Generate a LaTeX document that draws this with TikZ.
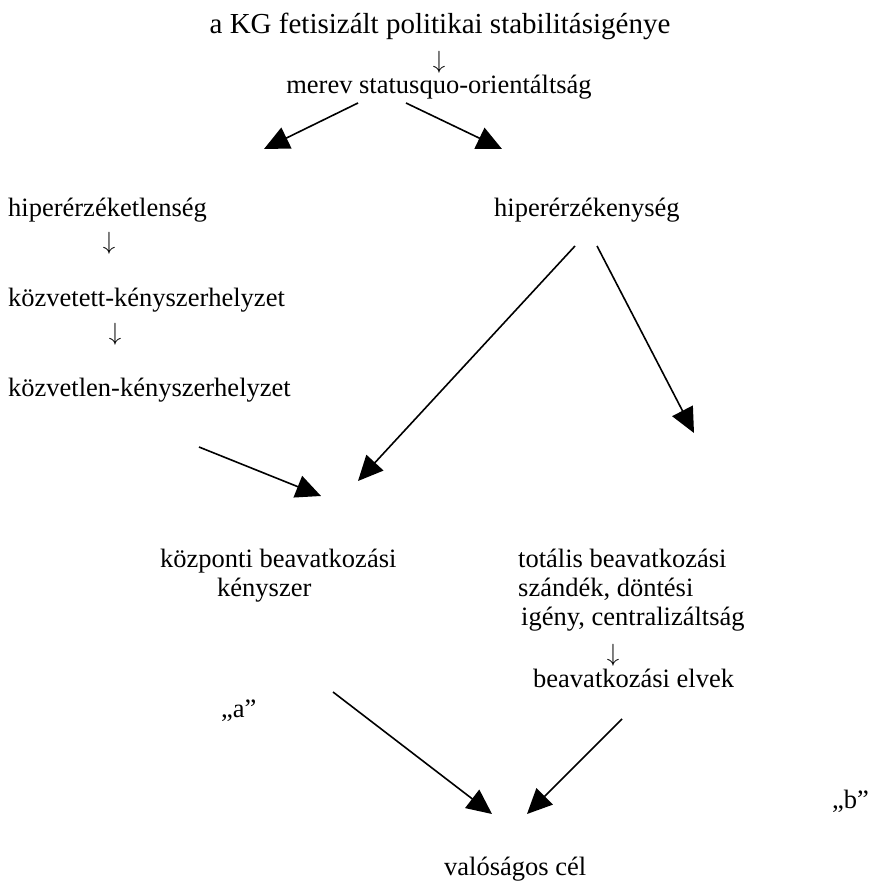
\documentclass[tikz,border=0pt]{standalone}
\usepackage{fontspec}
\setmainfont{Liberation Serif}
\usetikzlibrary{arrows.meta}
\begin{document}
\begin{tikzpicture}[x=1pt,y=-1pt,
  lbl/.style={inner sep=0pt,anchor=base west,font=\fontsize{26.5}{29}\selectfont},
  ttl/.style={inner sep=0pt,anchor=base,font=\fontsize{29}{32}\selectfont},
  dn/.style={inner sep=0pt,anchor=base,font=\fontsize{27}{30}\selectfont},
  con/.style={line width=1.6pt,-{Triangle[length=25pt,width=23pt]}}]
\useasboundingbox (0,0) rectangle (871,890);
% texts
\node[ttl] (title) at (440,34) {a KG fetisizált politikai stabilitásigénye};
\node[dn] (d1) at (439,69) {$\downarrow$};
\node[lbl,anchor=base] (merev) at (439,94) {merev statusquo-orientáltság};
\node[lbl] (hipo) at (8,217) {hiperérzéketlenség};
\node[dn] (d2) at (109,250) {$\downarrow$};
\node[lbl] (kozv1) at (8,306) {közvetett-kényszerhelyzet};
\node[dn] (d3) at (115,340) {$\downarrow$};
\node[lbl] (kozv2) at (8,396) {közvetlen-kényszerhelyzet};
\node[lbl] (hipe) at (494,217) {hiperérzékenység};
\node[lbl] (kp1) at (160,567) {központi beavatkozási};
\node[lbl] (kp2) at (217,596) {kényszer};
\node[lbl] (tot1) at (518,567) {totális beavatkozási};
\node[lbl] (tot2) at (518,596) {szándék, döntési};
\node[lbl] (tot3) at (521,625) {igény, centralizáltság};
\node[dn] (d4) at (613,661) {$\downarrow$};
\node[lbl] (elv) at (533,687) {beavatkozási elvek};
\node[lbl] (qa) at (221,717) {„a”};
\node[lbl] (qb) at (832,808) {„b”};
\node[lbl] (cel) at (444,875) {valóságos cél};
% connector endpoints
\coordinate (m1) at (358,103);
\coordinate (m1t) at (264,149);
\coordinate (m2) at (406,103);
\coordinate (m2t) at (502,149);
\coordinate (h1) at (575,246);
\coordinate (h1t) at (358,481);
\coordinate (h2) at (597,246);
\coordinate (h2t) at (694,433);
\coordinate (k1) at (199,447);
\coordinate (k1t) at (321,496);
\coordinate (a1) at (333,692);
\coordinate (a1t) at (492,814);
\coordinate (b1) at (622,719);
\coordinate (b1t) at (527,814);
\draw[con] (m1) -- (m1t);
\draw[con] (m2) -- (m2t);
\draw[con] (h1) -- (h1t);
\draw[con] (h2) -- (h2t);
\draw[con] (k1) -- (k1t);
\draw[con] (a1) -- (a1t);
\draw[con] (b1) -- (b1t);
\end{tikzpicture}
\end{document}
